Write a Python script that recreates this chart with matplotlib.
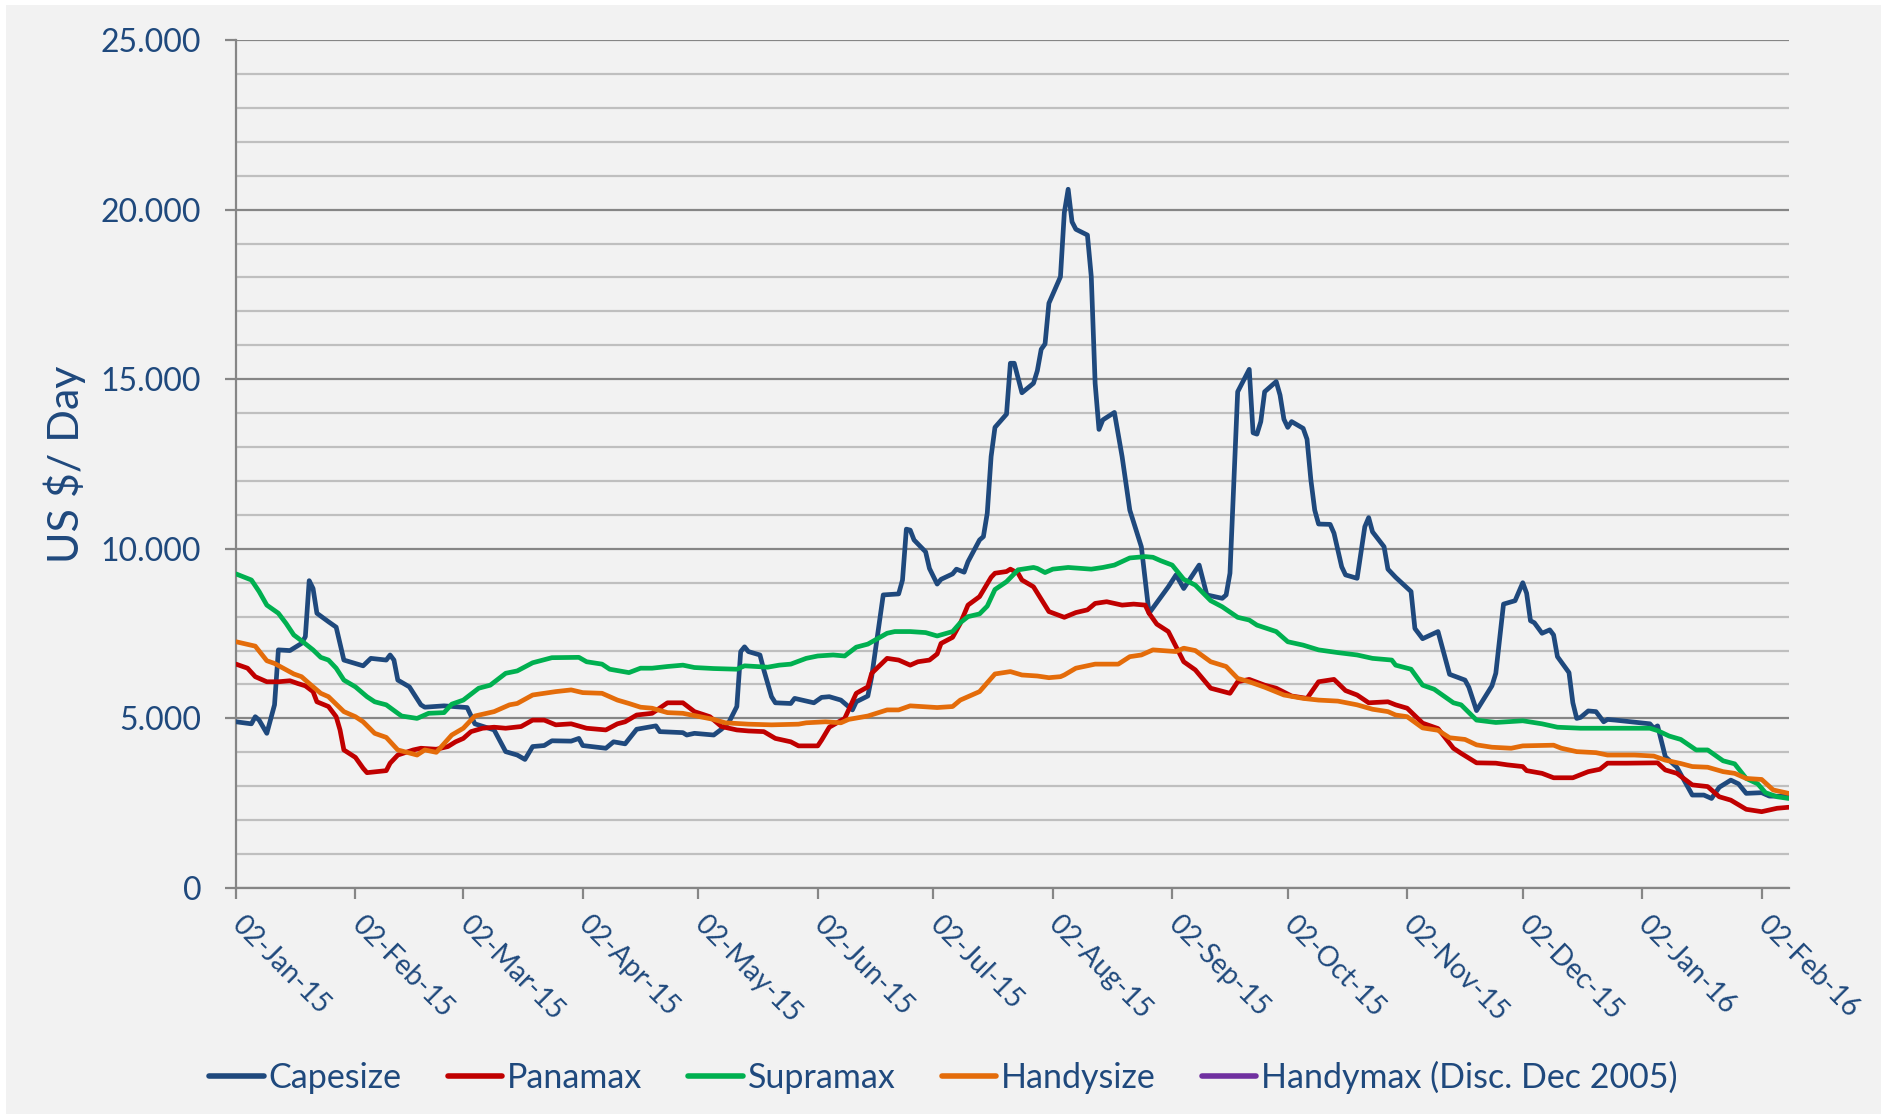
import numpy as np
import pandas as pd
import matplotlib
matplotlib.use("Agg")
import matplotlib.pyplot as plt
from matplotlib.patches import Rectangle
from matplotlib.lines import Line2D
from matplotlib.ticker import FuncFormatter

# ---------------- data (day offsets from 02-Jan-2015, US$/day) ----------------
START = "2015-01-02"

cape_days = [0, 4, 5, 6, 8, 10, 11, 14, 17, 18, 19, 20, 21, 24, 26, 28, 33, 35, 39, 40,
             41, 42, 45, 48, 49, 54, 60, 62, 67, 70, 73, 75, 77, 80, 82, 87, 89, 90, 96, 98,
             101, 104, 107, 109, 110, 116, 117, 119, 124, 126, 128, 130, 131, 132, 133, 136, 137, 139, 140, 144,
             145, 150, 152, 154, 157, 160, 161, 164, 165, 168, 172, 173, 174, 175, 176, 179, 180, 182, 183, 186,
             187, 189, 190, 193, 194, 195, 196, 197, 200, 201, 202, 204, 207, 208, 209, 210, 211, 214, 215, 216,
             217, 218, 221, 222, 223, 224, 225, 228, 230, 232, 235, 237, 242, 244, 246, 250, 252, 256, 257, 258,
             260, 263, 264, 265, 266, 267, 270, 271, 272, 273, 274, 277, 278, 279, 280, 281, 284, 285, 287, 288,
             291, 293, 294, 295, 298, 299, 301, 305, 306, 308, 312, 315, 319, 320, 322, 326, 327, 329, 332, 334,
             335, 336, 337, 339, 341, 342, 343, 346, 347, 348, 349, 351, 353, 355, 356, 358, 367, 368, 369, 371,
             374, 378, 381, 383, 385, 388, 390, 392, 396, 398, 403]
cape_vals = [4900, 4840, 5050, 4950, 4560, 5400, 7020, 7000, 7210, 7410, 9060, 8830, 8100, 7850, 7690, 6720, 6550, 6770, 6720, 6870,
             6720, 6130, 5930, 5400, 5330, 5370, 5320, 4840, 4660, 4020, 3920, 3790, 4170, 4200, 4340, 4330, 4410, 4200, 4120, 4310,
             4250, 4680, 4740, 4780, 4610, 4580, 4510, 4560, 4510, 4680, 4900, 5350, 6970, 7110, 6970, 6870, 6430, 5640, 5460, 5440,
             5590, 5460, 5620, 5640, 5540, 5250, 5490, 5660, 6230, 8640, 8670, 9080, 10580, 10550, 10260, 9910, 9420, 8960, 9100, 9260,
             9400, 9310, 9620, 10260, 10360, 11050, 12720, 13580, 13970, 15470, 15470, 14600, 14880, 15250, 15880, 16040, 17240, 18020, 19910, 20600,
             19640, 19420, 19250, 18020, 14880, 13520, 13800, 14020, 12720, 11140, 10060, 8100, 8880, 9230, 8830, 9520, 8640, 8540, 8640, 9280,
             14630, 15290, 13420, 13380, 13750, 14630, 14930, 14530, 13820, 13580, 13750, 13550, 13230, 12030, 11140, 10730, 10720, 10460, 9470, 9230,
             9130, 10650, 10920, 10500, 10060, 9400, 9160, 8740, 7650, 7350, 7560, 6300, 6130, 5920, 5230, 5960, 6330, 8370, 8470, 9000,
             8690, 7880, 7820, 7510, 7610, 7460, 6820, 6350, 5460, 5000, 5030, 5220, 5200, 4900, 4970, 4950, 4840, 4710, 4780, 3870,
             3560, 2740, 2740, 2640, 2970, 3180, 3070, 2790, 2810, 2710, 2700]

pana_days = [0, 3, 5, 8, 11, 14, 16, 18, 20, 21, 24, 26, 27, 28, 31, 33, 34, 39, 40, 42,
             46, 48, 52, 55, 57, 59, 61, 64, 67, 70, 74, 77, 80, 83, 87, 91, 96, 99, 101, 104,
             108, 112, 116, 119, 123, 126, 130, 133, 137, 140, 144, 146, 151, 152, 154, 158, 161, 164, 165, 169,
             172, 175, 177, 180, 182, 183, 186, 188, 190, 193, 196, 197, 200, 201, 203, 204, 207, 211, 215, 218,
             221, 223, 226, 230, 233, 236, 237, 239, 242, 246, 249, 253, 258, 260, 263, 267, 270, 274, 278, 281,
             285, 288, 291, 294, 299, 301, 304, 308, 312, 316, 318, 322, 327, 330, 334, 335, 339, 342, 347, 351,
             354, 356, 361, 369, 371, 374, 378, 382, 385, 388, 392, 396, 400, 403]
pana_vals = [6600, 6480, 6230, 6080, 6080, 6110, 6030, 5960, 5790, 5490, 5350, 5050, 4660, 4070, 3850, 3530, 3400, 3460, 3680, 3920,
             4070, 4120, 4090, 4170, 4310, 4410, 4610, 4710, 4740, 4710, 4760, 4950, 4950, 4810, 4840, 4710, 4660, 4840, 4900, 5100,
             5150, 5460, 5460, 5200, 5050, 4760, 4660, 4630, 4610, 4410, 4310, 4190, 4190, 4360, 4740, 5000, 5740, 5930, 6330, 6770,
             6720, 6570, 6670, 6720, 6900, 7210, 7390, 7800, 8340, 8590, 9160, 9280, 9330, 9400, 9280, 9080, 8880, 8150, 7980, 8120,
             8200, 8390, 8440, 8340, 8370, 8340, 8100, 7780, 7560, 6670, 6430, 5890, 5740, 6080, 6150, 5980, 5890, 5660, 5590, 6080,
             6150, 5820, 5690, 5460, 5490, 5400, 5300, 4860, 4700, 4120, 3970, 3690, 3680, 3630, 3580, 3460, 3380, 3250, 3250, 3430,
             3500, 3680, 3680, 3690, 3480, 3380, 3040, 2990, 2690, 2590, 2320, 2250, 2350, 2380]

supra_days = [0, 4, 6, 8, 11, 13, 15, 17, 20, 22, 24, 26, 28, 31, 34, 36, 39, 42, 43, 47,
              50, 54, 56, 59, 63, 66, 70, 73, 77, 82, 89, 91, 95, 97, 102, 105, 108, 112, 116, 119,
              124, 130, 132, 138, 141, 144, 148, 151, 155, 158, 161, 164, 169, 171, 175, 179, 182, 186, 188, 190,
              193, 195, 197, 200, 203, 207, 208, 210, 212, 216, 222, 225, 228, 232, 236, 238, 240, 243, 246, 249,
              253, 256, 260, 263, 265, 270, 273, 277, 281, 286, 291, 295, 300, 301, 305, 308, 311, 316, 318, 322,
              327, 334, 339, 343, 349, 356, 367, 369, 372, 375, 379, 382, 386, 389, 392, 395, 397, 400, 403]
supra_vals = [9260, 9080, 8740, 8340, 8100, 7800, 7460, 7290, 7020, 6800, 6720, 6480, 6130, 5930, 5640, 5490, 5400, 5150, 5070, 5000,
              5150, 5170, 5420, 5540, 5890, 5980, 6330, 6400, 6640, 6790, 6800, 6670, 6600, 6450, 6350, 6480, 6480, 6530, 6570, 6500,
              6470, 6450, 6550, 6510, 6570, 6600, 6770, 6840, 6870, 6840, 7100, 7190, 7510, 7560, 7560, 7530, 7430, 7560, 7820, 8000,
              8080, 8310, 8800, 9030, 9380, 9450, 9420, 9300, 9400, 9450, 9400, 9450, 9520, 9730, 9770, 9750, 9650, 9520, 9100, 8930,
              8470, 8290, 7980, 7900, 7750, 7560, 7260, 7160, 7020, 6940, 6870, 6770, 6720, 6570, 6450, 5980, 5860, 5460, 5400, 4950,
              4880, 4930, 4840, 4740, 4710, 4710, 4710, 4640, 4480, 4380, 4070, 4070, 3750, 3660, 3230, 3070, 2810, 2690, 2640]

handy_days = [0, 5, 8, 10, 15, 17, 19, 22, 24, 28, 31, 33, 36, 39, 42, 47, 49, 52, 56, 59,
              62, 67, 71, 73, 77, 83, 87, 90, 95, 99, 102, 105, 108, 112, 116, 124, 127, 133, 139, 146,
              148, 153, 157, 159, 164, 169, 172, 175, 182, 186, 188, 191, 193, 197, 201, 204, 208, 211, 214, 215,
              218, 223, 229, 232, 235, 238, 244, 246, 249, 253, 257, 260, 263, 267, 272, 277, 281, 286, 291, 295,
              299, 301, 304, 308, 312, 315, 319, 322, 326, 331, 334, 342, 344, 348, 353, 356, 363, 368, 371, 375,
              378, 382, 386, 389, 392, 396, 399, 403]
handy_vals = [7260, 7130, 6700, 6620, 6310, 6230, 6030, 5740, 5640, 5200, 5050, 4900, 4560, 4440, 4070, 3920, 4070, 4000, 4510, 4710,
              5070, 5200, 5400, 5440, 5690, 5790, 5840, 5760, 5740, 5540, 5440, 5330, 5300, 5170, 5150, 4970, 4870, 4830, 4810, 4830,
              4870, 4900, 4870, 4970, 5070, 5250, 5250, 5370, 5320, 5350, 5540, 5690, 5790, 6310, 6380, 6280, 6250, 6200, 6230, 6280,
              6480, 6600, 6600, 6820, 6870, 7020, 6970, 7070, 7000, 6670, 6530, 6180, 6080, 5920, 5690, 5590, 5540, 5510, 5400, 5270,
              5200, 5100, 5050, 4720, 4650, 4430, 4380, 4220, 4150, 4120, 4190, 4210, 4120, 4020, 3990, 3920, 3920, 3890, 3770, 3670,
              3580, 3560, 3430, 3380, 3230, 3200, 2890, 2790]

handymax_days = []
handymax_vals = []

series_names = ["Capesize", "Panamax", "Supramax", "Handysize", "Handymax (Disc. Dec 2005)"]
series_colors = ["#1F497D", "#C00000", "#00B050", "#E46C0A", "#7030A0"]

x_tick_labels = ["02-Jan-15", "02-Feb-15", "02-Mar-15", "02-Apr-15", "02-May-15", "02-Jun-15",
                 "02-Jul-15", "02-Aug-15", "02-Sep-15", "02-Oct-15", "02-Nov-15", "02-Dec-15",
                 "02-Jan-16", "02-Feb-16"]
X_END_DAY = 403
y_ticks = [0, 5000, 10000, 15000, 20000, 25000]

# ---------------- style ----------------
W, H = 1887, 1119
TEXT_C = "#1F497D"
AX_C = "#868686"
AX_L, AX_R, AX_T, AX_B = 236, 1788.6, 40, 888
plt.rcParams["font.family"] = ["Lato", "DejaVu Sans"]

fig = plt.figure(figsize=(W / 100, H / 100), dpi=100, facecolor="white")
fig.patches.append(Rectangle((6 / W, 1 - 1114 / H), (1881 - 6) / W, (1114 - 5) / H,
                             transform=fig.transFigure, facecolor="#F2F2F2",
                             edgecolor="none", zorder=-10))

ax = fig.add_axes([AX_L / W, 1 - AX_B / H, (AX_R - AX_L) / W, (AX_B - AX_T) / H])
ax.set_facecolor("none")

start = pd.Timestamp(START)
def to_dates(days):
    return start + pd.to_timedelta(np.asarray(days, dtype=float), unit="D")

all_days = [cape_days, pana_days, supra_days, handy_days, handymax_days]
all_vals = [cape_vals, pana_vals, supra_vals, handy_vals, handymax_vals]
for d, v, c, n in zip(all_days, all_vals, series_colors, series_names):
    ax.plot(to_dates(d), v, color=c, lw=3.4, solid_joinstyle="round",
            solid_capstyle="round", label=n, zorder=3)

ax.set_xlim(start, start + pd.Timedelta(days=X_END_DAY))
ax.set_ylim(0, 25000)

# y axis
ax.set_yticks(y_ticks)
ax.set_yticks(np.arange(0, 25001, 1000), minor=True)
ax.yaxis.set_major_formatter(FuncFormatter(lambda v, p: f"{int(v):,}".replace(",", ".")))
ax.grid(which="major", axis="y", color=AX_C, lw=1.6, zorder=0)
ax.grid(which="minor", axis="y", color="#BFBFBF", lw=1.6, zorder=0)
ax.set_axisbelow(True)
ax.tick_params(axis="y", which="major", length=8, width=1.6, color=AX_C,
               labelsize=23, labelcolor=TEXT_C, pad=17)
ax.tick_params(axis="y", which="minor", length=0)

# x axis
tick_dates = pd.to_datetime(x_tick_labels, format="%d-%b-%y")
ax.set_xticks(tick_dates)
ax.set_xticklabels(x_tick_labels)
ax.tick_params(axis="x", which="major", length=8, width=1.6, color=AX_C,
               labelsize=20, labelcolor=TEXT_C, pad=15)
plt.setp(ax.get_xticklabels(), rotation=-45, ha="left", va="center",
         rotation_mode="anchor")

for s in ["top", "right"]:
    ax.spines[s].set_visible(False)
for s in ["left", "bottom"]:
    ax.spines[s].set_color(AX_C)
    ax.spines[s].set_linewidth(1.6)
    ax.spines[s].set_zorder(2)

ax.set_ylabel("US $/ Day", fontsize=31, color=TEXT_C, va="center")
ax.yaxis.set_label_coords((65 - AX_L) / (AX_R - AX_L), 0.5)

handles = [Line2D([], [], color=c, lw=4.0, solid_capstyle="round") for c in series_colors]
leg = fig.legend(handles, series_names, loc="center", bbox_to_anchor=(0.5, 1 - 1077 / H),
                 ncol=5, frameon=False, fontsize=24.5, handlelength=1.6,
                 handletextpad=0.15, columnspacing=1.35)
for t in leg.get_texts():
    t.set_color(TEXT_C)

fig.savefig("out.png", dpi=100, facecolor=fig.get_facecolor())
